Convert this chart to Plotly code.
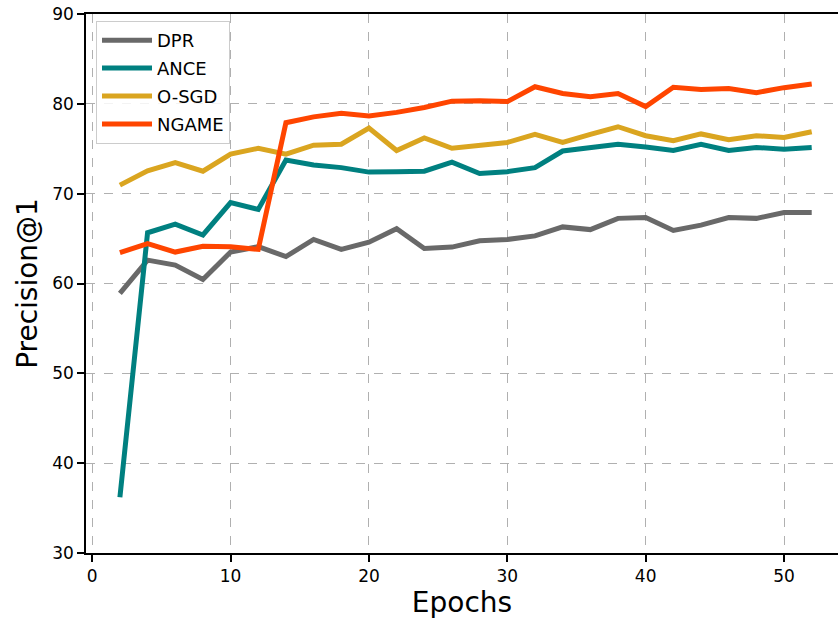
import plotly.graph_objects as go

epochs = list(range(2, 53, 2))

dpr = [58.9, 62.6, 62.05, 60.45, 63.5, 64.1, 63.0, 64.9, 63.8, 64.6, 66.1, 63.9, 64.05,
       64.75, 64.9, 65.3, 66.3, 66.0, 67.25, 67.35, 65.9, 66.5, 67.35, 67.25, 67.9, 67.9]
ance = [36.2, 65.65, 66.6, 65.4, 69.0, 68.25, 73.75, 73.2, 72.9, 72.4, 72.45, 72.5, 73.5,
        72.25, 72.45, 72.9, 74.75, 75.1, 75.5, 75.2, 74.8, 75.5, 74.8, 75.15, 74.95, 75.15]
osgd = [70.95, 72.55, 73.45, 72.5, 74.4, 75.05, 74.4, 75.4, 75.5, 77.3, 74.8, 76.2, 75.05,
        75.35, 75.7, 76.6, 75.7, 76.6, 77.45, 76.45, 75.9, 76.65, 76.0, 76.45, 76.25, 76.9]
ngame = [63.45, 64.45, 63.5, 64.15, 64.1, 63.8, 77.9, 78.55, 78.95, 78.65, 79.05, 79.6, 80.3,
         80.35, 80.25, 81.9, 81.15, 80.8, 81.15, 79.7, 81.85, 81.6, 81.7, 81.25, 81.8, 82.2]

series = [("DPR", dpr, "#696969"), ("ANCE", ance, "#008080"),
          ("O-SGD", osgd, "#DAA520"), ("NGAME", ngame, "#FF4500")]

x_ticks = [0, 10, 20, 30, 40, 50]
y_ticks = [30, 40, 50, 60, 70, 80, 90]

fig = go.Figure()
for name, vals, color in series:
    fig.add_trace(go.Scatter(x=epochs, y=vals, mode="lines", name=name, legendgroup=name,
                             line=dict(color=color, width=5)))

font = "DejaVu Sans"
axis_common = dict(showline=True, linecolor="black", linewidth=1.5,
                   ticks="outside", ticklen=7, tickwidth=1.5, tickcolor="black",
                   showgrid=True, gridcolor="#b0b0b0", griddash="dash", gridwidth=1,
                   zeroline=False, automargin=False,
                   tickfont=dict(family=font, size=17, color="black"))

fig.update_layout(
    width=838, height=619,
    margin=dict(l=86, r=0, t=14, b=66),
    plot_bgcolor="white", paper_bgcolor="white",
    font=dict(family=font, color="black"),
    xaxis=dict(range=[-0.45, 53.9], tickvals=x_ticks, mirror=True,
               title=dict(text="Epochs", font=dict(family=font, size=28), standoff=6),
               **axis_common),
    yaxis=dict(range=[30, 90], tickvals=y_ticks,
               title=dict(text="Precision@1", font=dict(family=font, size=28), standoff=6),
               **axis_common),
    legend=dict(x=0.0133, y=0.987, xanchor="left", yanchor="top",
                bgcolor="rgba(255,255,255,0.85)", bordercolor="#cccccc", borderwidth=1,
                itemwidth=50, tracegroupgap=1.5,
                font=dict(family=font, size=18, color="black")),
    showlegend=True,
)

fig.write_html("out.html", config={"displayModeBar": False},
               post_script="document.body.style.margin='0';document.body.style.padding='0';"
                           "document.body.style.overflow='hidden';")
